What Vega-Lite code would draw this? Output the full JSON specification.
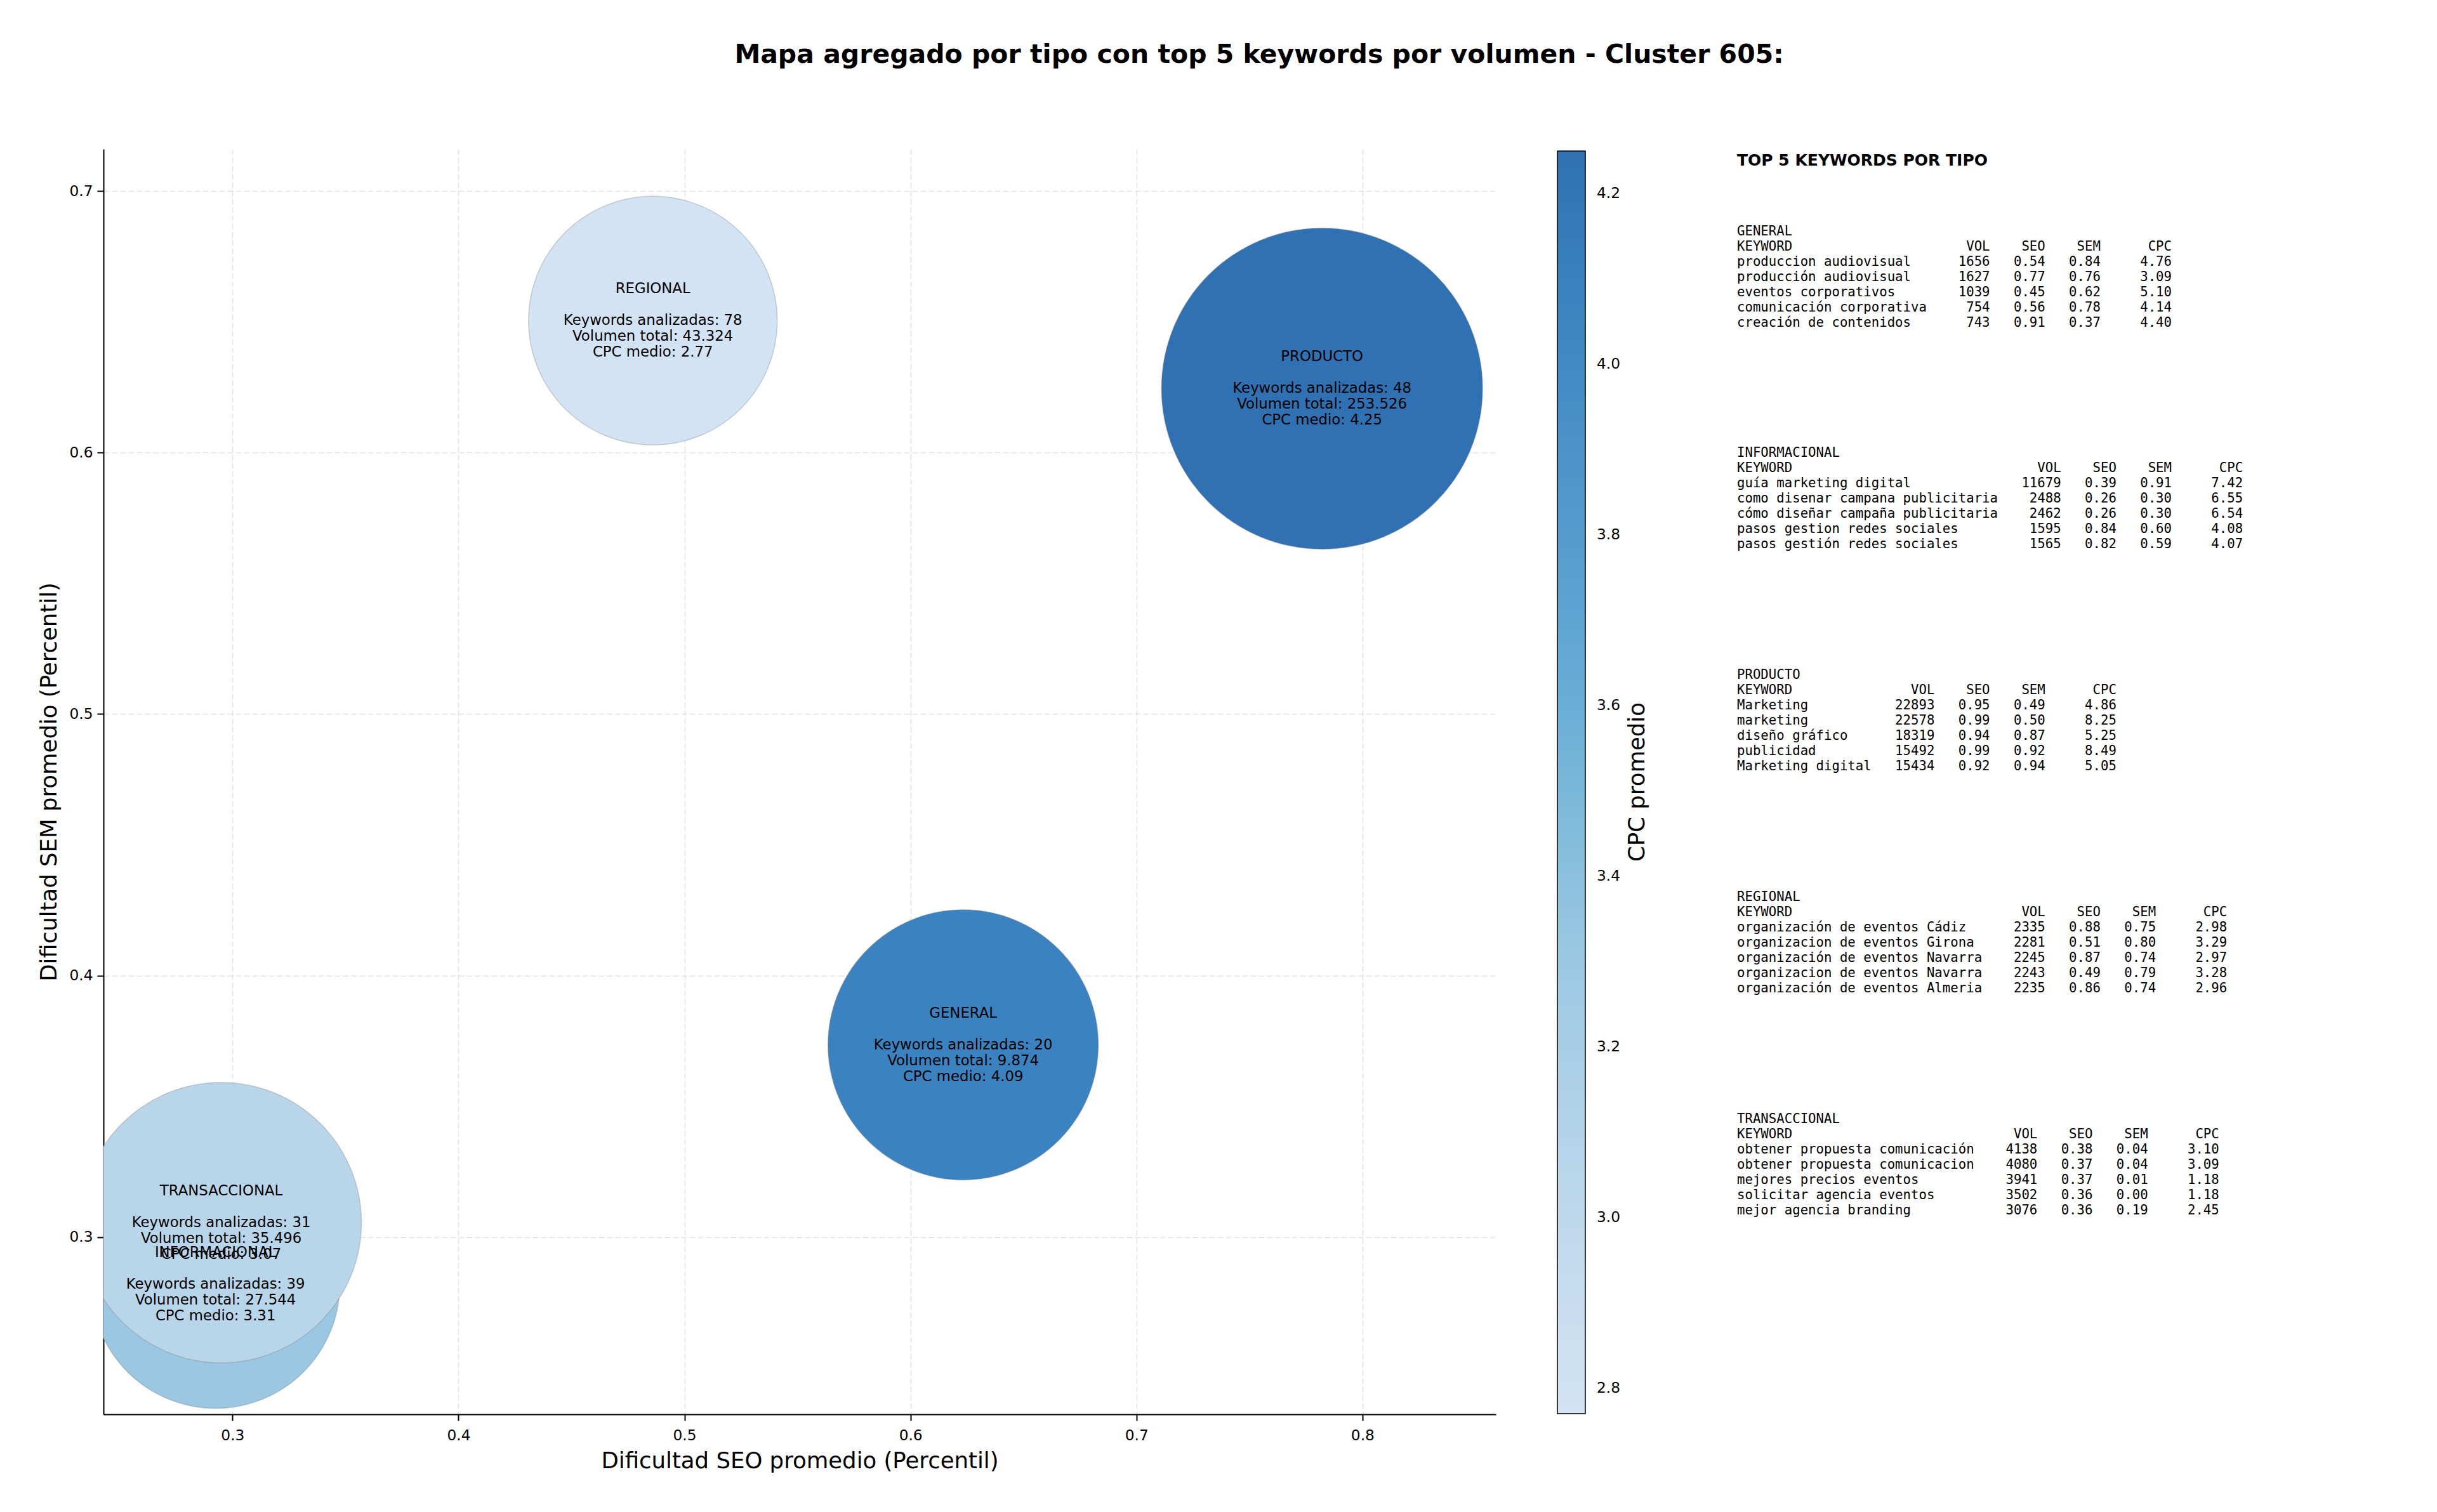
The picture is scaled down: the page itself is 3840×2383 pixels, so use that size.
{
  "$schema": "https://vega.github.io/schema/vega-lite/v6.json",
  "background": "white",
  "padding": {"left": 60, "top": 66, "right": 0, "bottom": 0},
  "title": {
    "text": "Mapa agregado por tipo con top 5 keywords por volumen - Cluster 605:",
    "font": "DejaVu Sans", "fontSize": 41, "fontWeight": "bold", "color": "black",
    "anchor": "start", "align": "center", "dx": 1821, "frame": "group", "baseline": "bottom", "offset": 86
  },
  "datasets": {
    "tipos": [
      {"tipo": "GENERAL", "seo": 0.6233, "sem": 0.3735, "keywords": 20, "volumen": 9874, "cpc": 4.09},
      {"tipo": "INFORMACIONAL", "seo": 0.2925, "sem": 0.2820, "keywords": 39, "volumen": 27544, "cpc": 3.31},
      {"tipo": "PRODUCTO", "seo": 0.7821, "sem": 0.6245, "keywords": 48, "volumen": 253526, "cpc": 4.25},
      {"tipo": "REGIONAL", "seo": 0.4860, "sem": 0.6505, "keywords": 78, "volumen": 43324, "cpc": 2.77},
      {"tipo": "TRANSACCIONAL", "seo": 0.2950, "sem": 0.3055, "keywords": 31, "volumen": 35496, "cpc": 3.07}
    ],
    "keywords": [
      {"tipo": "GENERAL", "rank": 1, "keyword": "produccion audiovisual", "vol": 1656, "seo": 0.54, "sem": 0.84, "cpc": 4.76},
      {"tipo": "GENERAL", "rank": 2, "keyword": "producción audiovisual", "vol": 1627, "seo": 0.77, "sem": 0.76, "cpc": 3.09},
      {"tipo": "GENERAL", "rank": 3, "keyword": "eventos corporativos", "vol": 1039, "seo": 0.45, "sem": 0.62, "cpc": 5.10},
      {"tipo": "GENERAL", "rank": 4, "keyword": "comunicación corporativa", "vol": 754, "seo": 0.56, "sem": 0.78, "cpc": 4.14},
      {"tipo": "GENERAL", "rank": 5, "keyword": "creación de contenidos", "vol": 743, "seo": 0.91, "sem": 0.37, "cpc": 4.40},
      {"tipo": "INFORMACIONAL", "rank": 1, "keyword": "guía marketing digital", "vol": 11679, "seo": 0.39, "sem": 0.91, "cpc": 7.42},
      {"tipo": "INFORMACIONAL", "rank": 2, "keyword": "como disenar campana publicitaria", "vol": 2488, "seo": 0.26, "sem": 0.30, "cpc": 6.55},
      {"tipo": "INFORMACIONAL", "rank": 3, "keyword": "cómo diseñar campaña publicitaria", "vol": 2462, "seo": 0.26, "sem": 0.30, "cpc": 6.54},
      {"tipo": "INFORMACIONAL", "rank": 4, "keyword": "pasos gestion redes sociales", "vol": 1595, "seo": 0.84, "sem": 0.60, "cpc": 4.08},
      {"tipo": "INFORMACIONAL", "rank": 5, "keyword": "pasos gestión redes sociales", "vol": 1565, "seo": 0.82, "sem": 0.59, "cpc": 4.07},
      {"tipo": "PRODUCTO", "rank": 1, "keyword": "Marketing", "vol": 22893, "seo": 0.95, "sem": 0.49, "cpc": 4.86},
      {"tipo": "PRODUCTO", "rank": 2, "keyword": "marketing", "vol": 22578, "seo": 0.99, "sem": 0.50, "cpc": 8.25},
      {"tipo": "PRODUCTO", "rank": 3, "keyword": "diseño gráfico", "vol": 18319, "seo": 0.94, "sem": 0.87, "cpc": 5.25},
      {"tipo": "PRODUCTO", "rank": 4, "keyword": "publicidad", "vol": 15492, "seo": 0.99, "sem": 0.92, "cpc": 8.49},
      {"tipo": "PRODUCTO", "rank": 5, "keyword": "Marketing digital", "vol": 15434, "seo": 0.92, "sem": 0.94, "cpc": 5.05},
      {"tipo": "REGIONAL", "rank": 1, "keyword": "organización de eventos Cádiz", "vol": 2335, "seo": 0.88, "sem": 0.75, "cpc": 2.98},
      {"tipo": "REGIONAL", "rank": 2, "keyword": "organizacion de eventos Girona", "vol": 2281, "seo": 0.51, "sem": 0.80, "cpc": 3.29},
      {"tipo": "REGIONAL", "rank": 3, "keyword": "organización de eventos Navarra", "vol": 2245, "seo": 0.87, "sem": 0.74, "cpc": 2.97},
      {"tipo": "REGIONAL", "rank": 4, "keyword": "organizacion de eventos Navarra", "vol": 2243, "seo": 0.49, "sem": 0.79, "cpc": 3.28},
      {"tipo": "REGIONAL", "rank": 5, "keyword": "organización de eventos Almeria", "vol": 2235, "seo": 0.86, "sem": 0.74, "cpc": 2.96},
      {"tipo": "TRANSACCIONAL", "rank": 1, "keyword": "obtener propuesta comunicación", "vol": 4138, "seo": 0.38, "sem": 0.04, "cpc": 3.10},
      {"tipo": "TRANSACCIONAL", "rank": 2, "keyword": "obtener propuesta comunicacion", "vol": 4080, "seo": 0.37, "sem": 0.04, "cpc": 3.09},
      {"tipo": "TRANSACCIONAL", "rank": 3, "keyword": "mejores precios eventos", "vol": 3941, "seo": 0.37, "sem": 0.01, "cpc": 1.18},
      {"tipo": "TRANSACCIONAL", "rank": 4, "keyword": "solicitar agencia eventos", "vol": 3502, "seo": 0.36, "sem": 0.00, "cpc": 1.18},
      {"tipo": "TRANSACCIONAL", "rank": 5, "keyword": "mejor agencia branding", "vol": 3076, "seo": 0.36, "sem": 0.19, "cpc": 2.45}
    ]
  },
  "bounds": "flush",
  "spacing": 380,
  "hconcat": [
    {
      "width": 2194,
      "height": 1994,
      "data": {"name": "tipos"},
      "transform": [
        {"calculate": "'Keywords analizadas: ' + datum.keywords + '|Volumen total: ' + replace(format(datum.volumen, ','), ',', '.') + '|CPC medio: ' + format(datum.cpc, '.2f')", "as": "label"}
      ],
      "encoding": {
        "x": {
          "field": "seo", "type": "quantitative",
          "scale": {"domain": [0.2429, 0.859], "nice": false, "zero": false},
          "axis": {"values": [0.3, 0.4, 0.5, 0.6, 0.7, 0.8], "format": ".1f", "title": "Dificultad SEO promedio (Percentil)", "labelPadding": 12, "titlePadding": 12}
        },
        "y": {
          "field": "sem", "type": "quantitative",
          "scale": {"domain": [0.2322, 0.7161], "nice": false, "zero": false},
          "axis": {"values": [0.3, 0.4, 0.5, 0.6, 0.7], "format": ".1f", "title": "Dificultad SEM promedio (Percentil)", "labelPadding": 7, "titlePadding": 13}
        }
      },
      "resolve": {"axis": {"y": "independent"}},
      "layer": [
        {
          "mark": {"type": "point", "shape": "circle", "filled": true, "fillOpacity": 1, "stroke": "gray", "strokeOpacity": 0.35, "strokeWidth": 1.5, "clip": true},
          "encoding": {
            "size": {
              "field": "tipo", "type": "ordinal",
              "scale": {"type": "ordinal", "domain": ["GENERAL", "INFORMACIONAL", "PRODUCTO", "REGIONAL", "TRANSACCIONAL"], "range": [181476, 153664, 256036, 153664, 195364]},
              "legend": null
            },
            "color": {
              "field": "cpc", "type": "quantitative",
              "scale": {"type": "linear", "domain": [2.77, 3.07, 3.31, 3.6, 4.09, 4.25], "range": ["#d2e3f3", "#b8d5ea", "#9ac8e2", "#6aaed6", "#3a82c0", "#2f71b2"]},
              "legend": {
                "orient": "none", "legendX": 2291, "legendY": 3, "padding": 0, "direction": "vertical",
                "title": null,
                "gradientLength": 1990, "gradientThickness": 44, "gradientStrokeColor": "black", "gradientStrokeWidth": 1.5,
                "values": [2.8, 3.0, 3.2, 3.4, 3.6, 3.8, 4.0, 4.2], "format": ".1f",
                "labelFont": "DejaVu Sans", "labelFontSize": 23.3, "labelColor": "black", "labelOffset": 18, "labelFlush": false, "labelOverlap": false
              }
            }
          }
        },
        {
          "mark": {"type": "text", "font": "DejaVu Sans", "fontSize": 22.8, "color": "black", "align": "center", "baseline": "middle", "dy": -50},
          "encoding": {
            "y": {"field": "sem", "type": "quantitative", "axis": null},
            "text": {"field": "tipo", "type": "nominal"}
          }
        },
        {
          "mark": {"type": "text", "lineBreak": "|", "font": "DejaVu Sans", "fontSize": 22.8, "lineHeight": 25, "color": "black", "align": "center", "baseline": "middle"},
          "encoding": {
            "y": {
              "field": "sem", "type": "quantitative",
              "axis": {"orient": "right", "title": "CPC promedio", "labels": false, "ticks": false, "domain": false, "grid": false,
                       "titleAngle": 270, "titleX": 222, "titleY": 997, "titleAlign": "center", "titleBaseline": "middle",
                       "titleFont": "DejaVu Sans", "titleFontSize": 35.5, "titleFontWeight": "normal", "titleColor": "black"}
            },
            "text": {"field": "label", "type": "nominal"}
          }
        }
      ]
    },
    {
      "width": 1068,
      "height": 1994,
      "title": {"text": "TOP 5 KEYWORDS POR TIPO", "anchor": "start", "frame": "group", "font": "DejaVu Sans", "fontSize": 25, "fontWeight": "bold", "color": "black", "baseline": "bottom", "offset": -55.5},
      "data": {"name": "keywords"},
      "transform": [
        {"calculate": "length(datum.keyword)", "as": "len"},
        {"joinaggregate": [{"op": "max", "field": "len", "as": "maxlen"}], "groupby": ["tipo"]}
      ],
      "encoding": {
        "y": {"field": "tipo", "type": "nominal", "bandPosition": 0, "scale": {"type": "band", "paddingInner": 0, "paddingOuter": 0.3486, "align": 0.5307}, "axis": null},
        "x": {"value": 0}
      },
      "layer": [
        {
          "transform": [
            {"calculate": "pad(datum.keyword, datum.maxlen + 2, '\u00a0') + pad(format(datum.vol, 'd'), 6, '\u00a0', 'left') + pad(format(datum.seo, '.2f'), 7, '\u00a0', 'left') + pad(format(datum.sem, '.2f'), 7, '\u00a0', 'left') + pad(format(datum.cpc, '.2f'), 9, '\u00a0', 'left')", "as": "linea"}
          ],
          "mark": {"type": "text", "align": "left", "baseline": "middle", "font": "DejaVu Sans Mono", "fontSize": 20.7, "color": "black"},
          "encoding": {
            "yOffset": {"field": "rank", "type": "ordinal", "scale": {"type": "band", "range": [36, 156], "paddingInner": 0, "paddingOuter": 0}},
            "text": {"field": "linea", "type": "nominal"}
          }
        },
        {
          "transform": [
            {"aggregate": [{"op": "max", "field": "maxlen", "as": "maxlen"}], "groupby": ["tipo"]},
            {"calculate": "pad('KEYWORD', datum.maxlen + 2, '\u00a0') + pad('VOL', 6, '\u00a0', 'left') + pad('SEO', 7, '\u00a0', 'left') + pad('SEM', 7, '\u00a0', 'left') + pad('CPC', 9, '\u00a0', 'left')", "as": "linea"}
          ],
          "mark": {"type": "text", "align": "left", "baseline": "middle", "font": "DejaVu Sans Mono", "fontSize": 20.7, "color": "black", "dy": 24},
          "encoding": {"text": {"field": "linea", "type": "nominal"}}
        },
        {
          "transform": [
            {"aggregate": [{"op": "max", "field": "maxlen", "as": "maxlen"}], "groupby": ["tipo"]}
          ],
          "mark": {"type": "text", "align": "left", "baseline": "middle", "font": "DejaVu Sans Mono", "fontSize": 20.7, "color": "black"},
          "encoding": {"text": {"field": "tipo", "type": "nominal"}}
        }
      ]
    }
  ],
  "config": {
    "view": {"stroke": null},
    "axis": {
      "labelFont": "DejaVu Sans", "labelFontSize": 23.3, "labelColor": "black",
      "titleFont": "DejaVu Sans", "titleFontSize": 35.5, "titleFontWeight": "normal", "titleColor": "black",
      "domainColor": "black", "domainWidth": 2, "tickColor": "black", "tickWidth": 2, "tickSize": 10,
      "grid": true, "gridColor": "#b0b0b0", "gridOpacity": 0.35, "gridDash": [9, 4], "gridWidth": 1.6
    }
  }
}
